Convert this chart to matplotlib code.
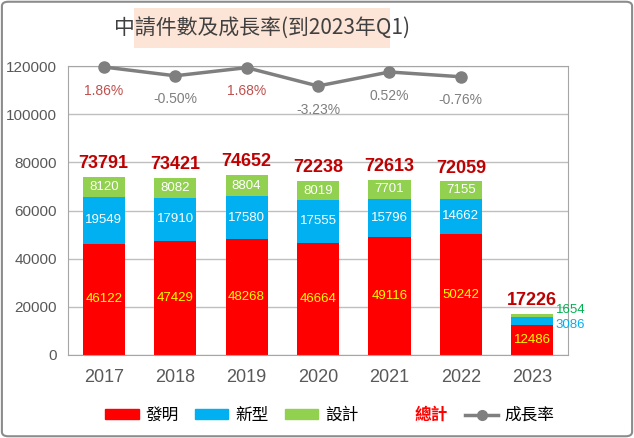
import numpy as np
import matplotlib
matplotlib.use('Agg')
import matplotlib.pyplot as plt
from matplotlib.patches import FancyBboxPatch
from matplotlib.lines import Line2D
from matplotlib.patches import Patch

plt.rcParams['font.family'] = ['Liberation Sans', 'Noto Sans CJK TC', 'DejaVu Sans']

years = ['2017', '2018', '2019', '2020', '2021', '2022', '2023']
invention = [46122, 47429, 48268, 46664, 49116, 50242, 12486]
utility = [19549, 17910, 17580, 17555, 15796, 14662, 3086]
design = [8120, 8082, 8804, 8019, 7701, 7155, 1654]
total = [73791, 73421, 74652, 72238, 72613, 72059, 17226]
growth = [1.86, -0.50, 1.68, -3.23, 0.52, -0.76]

RED, BLUE, GREEN, GREY = '#ff0000', '#00b0f0', '#92d050', '#7f7f7f'

fig = plt.figure(figsize=(6.34, 4.38), dpi=100)
ax = fig.add_axes([68/634, 1-355/438, 500/634, 289/438])
x = np.arange(len(years))
w = 0.59
inv = np.array(invention); uti = np.array(utility); des = np.array(design)
ax.bar(x, inv, w, color=RED, zorder=2)
ax.bar(x, uti, w, bottom=inv, color=BLUE, zorder=2)
ax.bar(x, des, w, bottom=inv + uti, color=GREEN, zorder=2)

for i in range(len(years)):
    if i < 6:
        ax.text(x[i], inv[i] / 2, str(inv[i]), ha='center', va='center', color='#ffff00', fontsize=9.5)
        ax.text(x[i], inv[i] + uti[i] / 2, str(uti[i]), ha='center', va='center', color='white', fontsize=9.5)
        ax.text(x[i], inv[i] + uti[i] + des[i] / 2, str(des[i]), ha='center', va='center', color='white', fontsize=9.5)
    else:
        ax.text(x[i], inv[i] / 2, str(inv[i]), ha='center', va='center', color='#ffff00', fontsize=9.5)
        ax.text(x[i] + w / 2 + 0.03, inv[i] + uti[i] / 2 - 1500, str(uti[i]), ha='left', va='center', color=BLUE, fontsize=9.5)
        ax.text(x[i] + w / 2 + 0.03, inv[i] + uti[i] + des[i] + 1500, str(des[i]), ha='left', va='center', color='#00b050', fontsize=9.5)
    ax.text(x[i], total[i] + 2000, str(total[i]), ha='center', va='bottom', color='#c00000',
            fontsize=13, fontweight='bold')

ax.set_xlim(-0.5, 6.5)
ax.set_ylim(0, 120000)
ax.set_yticks(np.arange(0, 120001, 20000))
ax.tick_params(axis='y', length=0, labelsize=11, colors='#595959', pad=8)
ax.tick_params(axis='x', length=0, labelsize=13, colors='#595959', pad=10)
ax.set_xticks(x)
ax.set_xticklabels(years)
ax.grid(axis='y', color='#bfbfbf', lw=1, zorder=0)
for s in ax.spines.values():
    s.set_color('#a6a6a6')

ax2 = ax.twinx()
ax2.set_ylim(-75.2, 2.12)
ax2.plot(x[:6], growth, color=GREY, lw=2.5, marker='o', ms=8, zorder=3, clip_on=False)
for i, g in enumerate(growth):
    ax2.annotate(f'{g:.2f}%', (x[i], g), xytext=(0, -12), textcoords='offset points',
                 ha='center', va='top', fontsize=10,
                 color='#c0504d' if i in (0, 2) else GREY)
ax2.axis('off')

# title
fig.patches.append(FancyBboxPatch((134/634, 1-48/438), 256/634, 40/438, boxstyle='square,pad=0',
                                  transform=fig.transFigure, fc='#fce4d6', ec='none'))
fig.text(262/634, 1-28/438, '中請件數及成長率(到2023年Q1)', ha='center', va='center', fontsize=15,
         color='#404040', family=['Noto Sans CJK TC', 'Liberation Sans'])

handles = [Patch(color=RED), Patch(color=BLUE), Patch(color=GREEN),
           Line2D([], [], color='none'),
           Line2D([], [], color=GREY, lw=2.5, marker='o', ms=7)]
labels = ['發明', '新型', '設計', '總計', '成長率']
leg = fig.legend(handles, labels, loc='center', bbox_to_anchor=(330/634, 1-415/438), ncol=5,
                 frameon=False, handlelength=2.0, handleheight=0.5, columnspacing=1.0,
                 handletextpad=0.4, prop={'family': ['Noto Sans CJK TC'], 'size': 12})
t = leg.get_texts()[3]
t.set_color('#ff0000')
t.set_fontweight('bold')
leg.legend_handles[3].set_visible(False)

fig.patches.append(FancyBboxPatch((0.003, 0.004), 0.994, 0.992, boxstyle='round,pad=0,rounding_size=0.01',
                                  transform=fig.transFigure, fc='none', ec='#8c8c8c', lw=1.5))
fig.savefig('out.png', dpi=100)
